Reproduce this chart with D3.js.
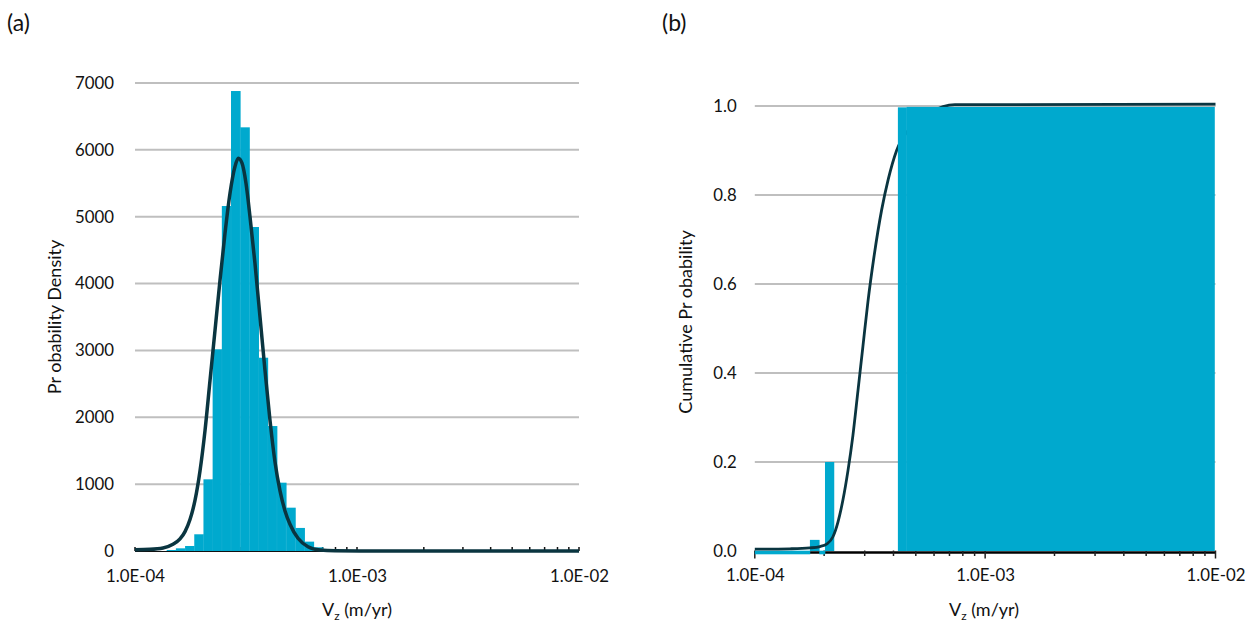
<!DOCTYPE html>
<html>
<head>
<meta charset="utf-8">
<script src="https://cdn.jsdelivr.net/npm/d3@7/dist/d3.min.js"></script>
<style>
  body { margin: 0; background: #fff; }
  svg { display: block; }
  text { font-family: Lato, "Open Sans", "Liberation Sans", sans-serif; fill: #111; }
</style>
</head>
<body>
<svg id="chart" width="1256" height="630"></svg>
<script>
// ---- Panel (a): histogram of V_z (log-spaced bins, m/yr) and probability density
const binEdges = [1.389e-4, 1.528e-4, 1.681e-4, 1.849e-4, 2.034e-4, 2.237e-4, 2.461e-4,
                  2.707e-4, 2.978e-4, 3.276e-4, 3.603e-4, 3.963e-4, 4.360e-4, 4.796e-4,
                  5.275e-4, 5.803e-4, 6.383e-4, 7.021e-4, 7.724e-4];
const density = [15, 40, 75, 250, 1072, 3016, 5160, 6880, 6337, 4846, 2891, 1869,
                 1022, 648, 345, 140, 55, 15];

// fitted density curve, sampled along V_z
const pdfV = [1.000e-4, 1.168e-4, 1.337e-4, 1.483e-4, 1.595e-4, 1.680e-4, 1.769e-4,
              1.864e-4, 1.963e-4, 2.067e-4, 2.177e-4, 2.293e-4, 2.415e-4, 2.543e-4,
              2.679e-4, 2.821e-4, 2.920e-4, 3.034e-4, 3.162e-4, 3.296e-4, 3.471e-4,
              3.657e-4, 3.851e-4, 4.057e-4, 4.272e-4, 4.500e-4, 4.740e-4, 4.991e-4,
              5.424e-4, 6.015e-4, 6.813e-4, 7.962e-4, 1.2e-3, 1.0e-2];
const pdfD = [20, 25, 45, 100, 180, 290, 470, 760, 1200, 1800, 2550, 3300, 4050, 4750,
              5350, 5750, 5873, 5800, 5500, 5000, 4300, 3500, 2700, 1950, 1330, 900,
              600, 400, 190, 64, 15, 3, 0, 0];

// ---- Panel (b): cumulative histogram bins and cumulative probability curve
const cumLo = [1.000e-4, 1.735e-4, 1.905e-4, 2.017e-4, 4.180e-4, 4.560e-4];
const cumHi = [1.735e-4, 1.905e-4, 2.017e-4, 2.206e-4, 4.560e-4, 9.900e-3];
const cumP  = [0, 0.025, 0, 0.2, 0.997, 0.998];

const cdfV = [1.000e-4, 1.421e-4, 1.735e-4, 1.918e-4, 2.057e-4, 2.184e-4, 2.296e-4,
              2.414e-4, 2.537e-4, 2.667e-4, 2.804e-4, 2.947e-4, 3.098e-4, 3.289e-4,
              3.552e-4, 3.795e-4, 4.127e-4, 4.713e-4, 5.755e-4, 7.389e-4, 1.0e-2];
const cdfP = [0.004, 0.005, 0.007, 0.010, 0.016, 0.032, 0.065, 0.115, 0.18, 0.26,
              0.36, 0.46, 0.56, 0.66, 0.766, 0.835, 0.90, 0.95, 0.985, 1.003, 1.004];

const densityTicks = [0, 1000, 2000, 3000, 4000, 5000, 6000, 7000];
const probTicks = [0, 0.2, 0.4, 0.6, 0.8, 1.0];
const decadeTicks = [1e-4, 1e-3, 1e-2];

const BAR = "#00a9ce", CURVE = "#0a3540", GRID = "#bfbfbf";
const TICK_FONT = "16.8px", TITLE_FONT = "18px", PANEL_FONT = "23px";
const svg = d3.select("#chart");

const sciFmt = d => {
  const e = Math.round(Math.log10(d));
  return "1.0E" + (e < 0 ? "-" : "+") + String(Math.abs(e)).padStart(2, "0");
};

function xTitle(g, cx) {
  const t = g.append("text").attr("x", cx).attr("y", 616).attr("text-anchor", "middle")
    .style("font-size", TITLE_FONT);
  t.append("tspan").text("V");
  t.append("tspan").text("z").style("font-size", "12px").attr("dy", 4);
  t.append("tspan").text(" (m/yr)").attr("dy", -4);
}

// ================= Panel (a) =================
{
  const x = d3.scaleLog().domain([1e-4, 1e-2]).range([135, 579]);
  const y = d3.scaleLinear().domain([0, 7000]).range([551, 83]);
  const g = svg.append("g");

  g.append("text").attr("x", 7).attr("y", 31).style("font-size", PANEL_FONT).text("(a)");

  // horizontal gridlines
  g.append("g").selectAll("line").data(densityTicks.filter(d => d > 0)).join("line")
    .attr("x1", x.range()[0]).attr("x2", x.range()[1])
    .attr("y1", d => y(d)).attr("y2", d => y(d))
    .attr("stroke", GRID).attr("stroke-width", 2);

  // y axis labels
  const ya = d3.axisLeft(y).tickValues(densityTicks).tickSize(0).tickPadding(21)
    .tickFormat(d3.format("d"));
  g.append("g").attr("transform", `translate(${x.range()[0]},0)`).call(ya)
    .call(s => s.select(".domain").remove())
    .call(s => s.selectAll("text").style("font-size", TICK_FONT).attr("fill", "#111"));

  // x axis line + minor ticks pointing up
  g.append("line").attr("x1", x.range()[0]).attr("x2", x.range()[1])
    .attr("y1", y(0) + 0.5).attr("y2", y(0) + 0.5).attr("stroke", "#111").attr("stroke-width", 1);
  g.append("g").selectAll("line").data(x.ticks()).join("line")
    .attr("x1", d => x(d)).attr("x2", d => x(d))
    .attr("y1", y(0)).attr("y2", y(0) - 4)
    .attr("stroke", "#111").attr("stroke-width", 1.5);

  // histogram bars
  const bins = density.map((v, i) => ({ lo: binEdges[i], hi: binEdges[i + 1], v }));
  g.append("g").selectAll("rect").data(bins).join("rect")
    .attr("x", d => x(d.lo)).attr("width", d => x(d.hi) - x(d.lo) + 0.4)
    .attr("y", d => y(d.v)).attr("height", d => y(0) - y(d.v))
    .attr("fill", BAR);
  // faint separators between neighbouring bars
  g.append("g").selectAll("line").data(bins.slice(1)).join("line")
    .attr("x1", d => x(d.lo)).attr("x2", d => x(d.lo))
    .attr("y1", (d, i) => y(Math.min(d.v, bins[i].v))).attr("y2", y(0))
    .attr("stroke", "#4cc4e0").attr("stroke-width", 0.5).attr("opacity", 0.35);

  // x labels
  const xa = d3.axisBottom(x).tickValues(decadeTicks).tickSize(0).tickPadding(19).tickFormat(sciFmt);
  g.append("g").attr("transform", `translate(0,${y(0)})`).call(xa)
    .call(s => s.select(".domain").remove())
    .call(s => s.selectAll("text").style("font-size", TICK_FONT).attr("fill", "#111"));

  // fitted density curve
  const line = d3.line().x(d => x(d[0])).y(d => y(d[1])).curve(d3.curveMonotoneX);
  g.append("path").datum(pdfV.map((v, i) => [v, pdfD[i]]))
    .attr("d", line).attr("fill", "none").attr("stroke", CURVE).attr("stroke-width", 3.5)
    .attr("stroke-linejoin", "round");

  g.append("text").attr("transform", "translate(61,317) rotate(-90)")
    .attr("text-anchor", "middle").style("font-size", TITLE_FONT).text("Pr obability Density");
  xTitle(g, 357);
}

// ================= Panel (b) =================
{
  const x = d3.scaleLog().domain([1e-4, 1e-2]).range([754.8, 1215.5]);
  const y = d3.scaleLinear().domain([0, 1]).range([551, 106]);
  const g = svg.append("g");

  g.append("text").attr("x", 662).attr("y", 31).style("font-size", PANEL_FONT).text("(b)");

  g.append("g").selectAll("line").data(probTicks.filter(d => d > 0)).join("line")
    .attr("x1", x.range()[0]).attr("x2", x.range()[1])
    .attr("y1", d => y(d)).attr("y2", d => y(d))
    .attr("stroke", GRID).attr("stroke-width", 2);

  const ya = d3.axisLeft(y).tickValues(probTicks).tickSize(0).tickPadding(18)
    .tickFormat(d3.format(".1f"));
  g.append("g").attr("transform", `translate(${x.range()[0]},0)`).call(ya)
    .call(s => s.select(".domain").remove())
    .call(s => s.selectAll("text").style("font-size", TICK_FONT).attr("fill", "#111"));

  // x axis line with ticks crossing below
  const ax = y(0) + 1.5;
  g.append("line").attr("x1", x.range()[0]).attr("x2", x.range()[1])
    .attr("y1", ax).attr("y2", ax).attr("stroke", "#000").attr("stroke-width", 2.5);
  g.append("g").selectAll("line").data(x.ticks()).join("line")
    .attr("x1", d => x(d)).attr("x2", d => x(d))
    .attr("y1", ax - 2).attr("y2", d => decadeTicks.includes(d) ? ax + 6 : ax + 3.5)
    .attr("stroke", "#222").attr("stroke-width", 1.5);

  const bins = cumP.map((v, i) => ({ lo: cumLo[i], hi: cumHi[i], v }));
  const drawBars = (sel, data) => sel.selectAll("rect").data(data).join("rect")
    .attr("x", d => x(d.lo)).attr("width", d => x(d.hi) - x(d.lo) + 0.3)
    .attr("y", d => d.v > 0 ? y(d.v) : ax - 1.8)
    .attr("height", d => d.v > 0 ? y(0) - y(d.v) : 3.6)
    .attr("fill", BAR);

  // low bins sit beneath the curve, the saturated bins cover it
  drawBars(g.append("g"), bins.filter(d => d.v < 0.5));

  const line = d3.line().x(d => x(d[0])).y(d => y(d[1])).curve(d3.curveMonotoneX);
  g.append("path").datum(cdfV.map((v, i) => [v, cdfP[i]]))
    .attr("d", line).attr("fill", "none").attr("stroke", CURVE).attr("stroke-width", 2.8)
    .attr("stroke-linejoin", "round");

  drawBars(g.append("g"), bins.filter(d => d.v >= 0.5));

  const xa = d3.axisBottom(x).tickValues(decadeTicks).tickSize(0).tickPadding(18).tickFormat(sciFmt);
  g.append("g").attr("transform", `translate(0,${y(0)})`).call(xa)
    .call(s => s.select(".domain").remove())
    .call(s => s.selectAll("text").style("font-size", TICK_FONT).attr("fill", "#111"));

  g.append("text").attr("transform", "translate(692,322) rotate(-90)")
    .attr("text-anchor", "middle").style("font-size", TITLE_FONT).text("Cumulative Pr obability");
  xTitle(g, 984);
}
</script>
</body>
</html>
